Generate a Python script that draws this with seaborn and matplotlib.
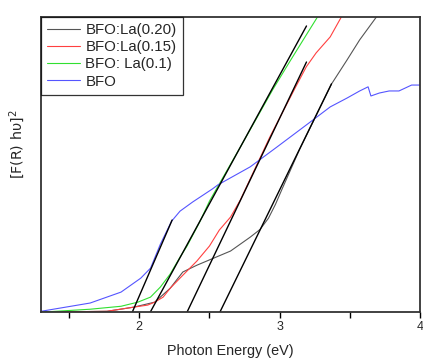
import matplotlib
matplotlib.use('Agg')
import matplotlib.pyplot as plt
import seaborn as sns
import pandas as pd

# curves (arbitrary y units, 0..1 is the axis range)
bfo_x = [1.30, 1.65, 1.87, 2.01, 2.08, 2.15, 2.23, 2.29, 2.38, 2.52, 2.56, 2.79, 2.98,
         3.21, 3.36, 3.48, 3.57, 3.63, 3.65, 3.71, 3.78, 3.85, 3.94, 4.00]
bfo_y = [0.003, 0.031, 0.068, 0.115, 0.149, 0.230, 0.308, 0.342, 0.373, 0.417, 0.431, 0.492,
         0.559, 0.641, 0.695, 0.725, 0.749, 0.763, 0.732, 0.742, 0.749, 0.749, 0.769, 0.769]

la10_x = [1.30, 1.65, 1.87, 1.99, 2.08, 2.15, 2.22, 2.29, 2.34, 2.43, 2.50, 2.72, 2.95,
          3.07, 3.19, 3.27]
la10_y = [0.0, 0.010, 0.020, 0.034, 0.051, 0.085, 0.129, 0.186, 0.224, 0.305, 0.376, 0.559,
          0.753, 0.847, 0.939, 1.0]

la15_x = [1.30, 1.77, 1.96, 2.06, 2.11, 2.17, 2.22, 2.31, 2.41, 2.50, 2.57, 2.65, 2.72,
          2.93, 3.11, 3.19, 3.26, 3.36, 3.44]
la15_y = [0.0, 0.003, 0.017, 0.024, 0.034, 0.051, 0.081, 0.125, 0.173, 0.224, 0.278, 0.322,
          0.380, 0.593, 0.759, 0.831, 0.878, 0.932, 1.0]

la20_x = [1.30, 1.77, 1.96, 2.11, 2.22, 2.31, 2.41, 2.53, 2.65, 2.79, 2.86, 2.92, 2.97,
          3.02, 3.14, 3.37, 3.48, 3.57, 3.69]
la20_y = [0.0, 0.003, 0.017, 0.034, 0.081, 0.136, 0.159, 0.183, 0.207, 0.254, 0.280, 0.318,
          0.365, 0.420, 0.549, 0.773, 0.854, 0.922, 1.0]

# linear fits (Tauc extrapolation), two end points each
fit_x = [[1.95, 2.234], [2.078, 3.191], [2.34, 3.191], [2.574, 3.369]]
fit_y = [[0.0, 0.312], [0.0, 0.969], [0.0, 0.847], [0.0, 0.773]]

sns.set_style('white')
plt.rcParams['font.family'] = ['Liberation Sans', 'DejaVu Sans']

fig, ax = plt.subplots(figsize=(4.23, 3.58), dpi=100)
fig.subplots_adjust(left=0.097, right=0.993, bottom=0.128, top=0.953)

series = [
    ('BFO:La(0.20)', la20_x, la20_y, '#555555'),
    ('BFO:La(0.15)', la15_x, la15_y, '#ff4040'),
    ('BFO: La(0.1)', la10_x, la10_y, '#30e030'),
    ('BFO', bfo_x, bfo_y, '#5555ff'),
]
for name, xs, ys, c in series:
    df = pd.DataFrame({'x': xs, 'y': ys})
    sns.lineplot(data=df, x='x', y='y', ax=ax, color=c, lw=0.8, label=name)

for xs, ys in zip(fit_x, fit_y):
    sns.lineplot(x=xs, y=ys, ax=ax, color='black', lw=1.0)

ax.set_xlim(1.3, 4.0)
ax.set_ylim(0, 1.0)
ax.set_xticks([1.5, 2, 2.5, 3, 3.5, 4])
ax.set_xticklabels(['', '2', '', '3', '', '4'])
ax.set_yticks([])
ax.tick_params(axis='x', direction='out', length=4, width=1, color='black',
               labelsize=9, pad=2, bottom=True)
for s in ax.spines.values():
    s.set_color('#333333')
    s.set_linewidth(1.3)

ax.set_xlabel('Photon Energy (eV)', fontsize=10.4, labelpad=8)
ax.set_ylabel('[F(R) h\u03c5]$^2$', fontsize=10.3, family=['DejaVu Sans'])
ax.yaxis.set_label_coords(-0.037, 0.57)

leg = ax.legend(loc='upper left', borderaxespad=0, fontsize=10.8, frameon=True,
                fancybox=False, edgecolor='black', handlelength=2.2,
                labelspacing=0.22, borderpad=0.4, handletextpad=0.35)
leg.get_frame().set_linewidth(0.9)

fig.savefig('out.png', dpi=100)
